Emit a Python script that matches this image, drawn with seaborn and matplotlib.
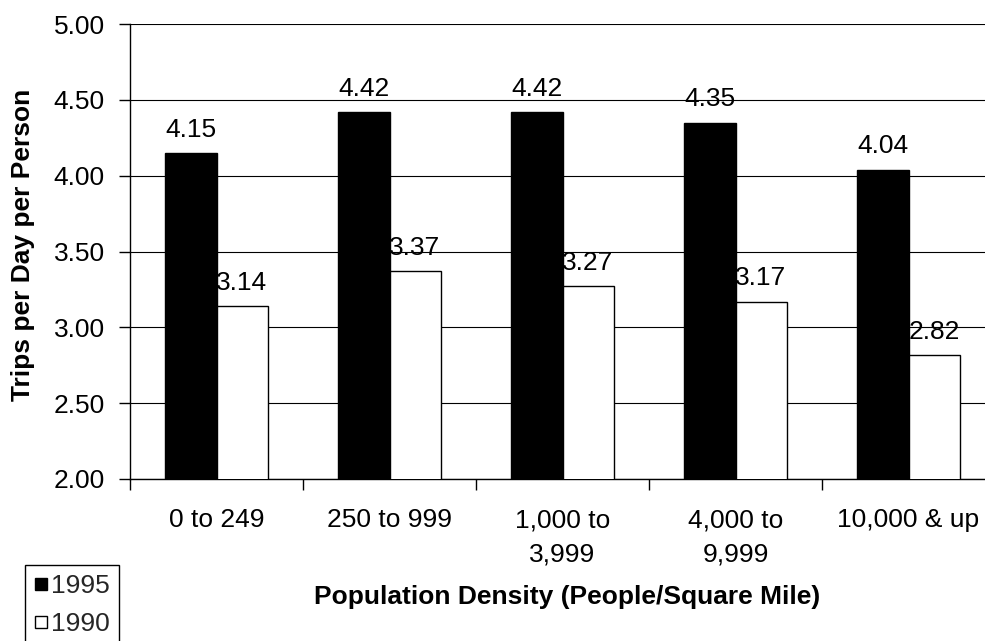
import matplotlib
matplotlib.use("Agg")
import matplotlib.pyplot as plt
from matplotlib.lines import Line2D
import seaborn as sns
import pandas as pd

# Average trips per day per person by population density
categories = ["0 to 249", "250 to 999", "1,000 to\n3,999", "4,000 to\n9,999", "10,000 & up"]
years = ["1995", "1990"]
trips_1995 = [4.15, 4.42, 4.42, 4.35, 4.04]
trips_1990 = [3.14, 3.37, 3.27, 3.17, 2.82]
y_ticks = [2.00, 2.50, 3.00, 3.50, 4.00, 4.50, 5.00]

df = pd.DataFrame({
    "density": categories * 2,
    "year": [years[0]] * len(categories) + [years[1]] * len(categories),
    "trips": trips_1995 + trips_1990,
})

sns.set_theme(style="white")
plt.rcParams["font.family"] = ["Liberation Sans", "DejaVu Sans"]

FS = 19
fig = plt.figure(figsize=(9.85, 6.41), dpi=100)
ax = fig.add_axes([130 / 985, 1 - 479 / 641, 865 / 985, (479 - 24) / 641])

sns.barplot(
    data=df, x="density", y="trips", hue="year", hue_order=years,
    order=categories, palette={"1995": "black", "1990": "white"},
    edgecolor="black", linewidth=1.0, width=0.59, gap=0,
    legend=False, ax=ax, zorder=3,
)

for cont in ax.containers:
    ax.bar_label(cont, fmt="%.2f", padding=8, fontsize=FS, color="black", zorder=4)

ax.set_ylim(2.0, 5.0)
ax.set_xlim(-0.5, len(categories) - 0.5)
ax.set_yticks(y_ticks)
ax.set_yticklabels([f"{v:.2f}" for v in y_ticks])
ax.yaxis.grid(True, color="black", linewidth=0.8, zorder=0)
ax.xaxis.grid(False)

# ticks between category groups
ax.set_xticks([i + 0.5 for i in range(-1, len(categories))], minor=True)
ax.tick_params(axis="x", which="minor", length=8, width=1, color="black", direction="out", bottom=True)
ax.tick_params(axis="x", which="major", length=0, pad=21, labelsize=FS, labelcolor="black")
ax.tick_params(axis="y", which="major", length=8, width=1, color="black", direction="out",
               left=True, pad=10, labelsize=FS, labelcolor="black")
for lbl in ax.get_xticklabels():
    lbl.set_multialignment("center")
    lbl.set_linespacing(1.55)

for side in ["top", "right"]:
    ax.spines[side].set_visible(False)
for side in ["left", "bottom"]:
    ax.spines[side].set_color("black")
    ax.spines[side].set_linewidth(1.0)

ax.set_xlabel("Population Density (People/Square Mile)", fontsize=FS, fontweight="bold", color="black")
ax.set_ylabel("Trips per Day per Person", fontsize=FS, fontweight="bold", color="black")
ax.xaxis.set_label_coords((567 - 130) / 865, (479 - 597) / 455)
ax.xaxis.label.set_va("center")
ax.yaxis.set_label_coords((23 - 130) / 865, (479 - 245) / 455)
ax.yaxis.label.set_va("center")

handles = [
    Line2D([], [], marker="s", linestyle="none", markersize=8,
           markerfacecolor="black", markeredgecolor="black", markeredgewidth=1),
    Line2D([], [], marker="s", linestyle="none", markersize=8,
           markerfacecolor="white", markeredgecolor="black", markeredgewidth=1),
]
leg = fig.legend(
    handles, years, loc="upper left", bbox_to_anchor=(25 / 985, 1 - 565 / 641),
    bbox_transform=fig.transFigure, fontsize=FS, frameon=True, fancybox=False,
    handlelength=0.5, handletextpad=0.15, borderpad=0.35, labelspacing=0.52,
    borderaxespad=0, edgecolor="black",
)
leg.get_frame().set_linewidth(1.0)
leg.get_frame().set_alpha(1)

fig.savefig("out.png", dpi=100)
